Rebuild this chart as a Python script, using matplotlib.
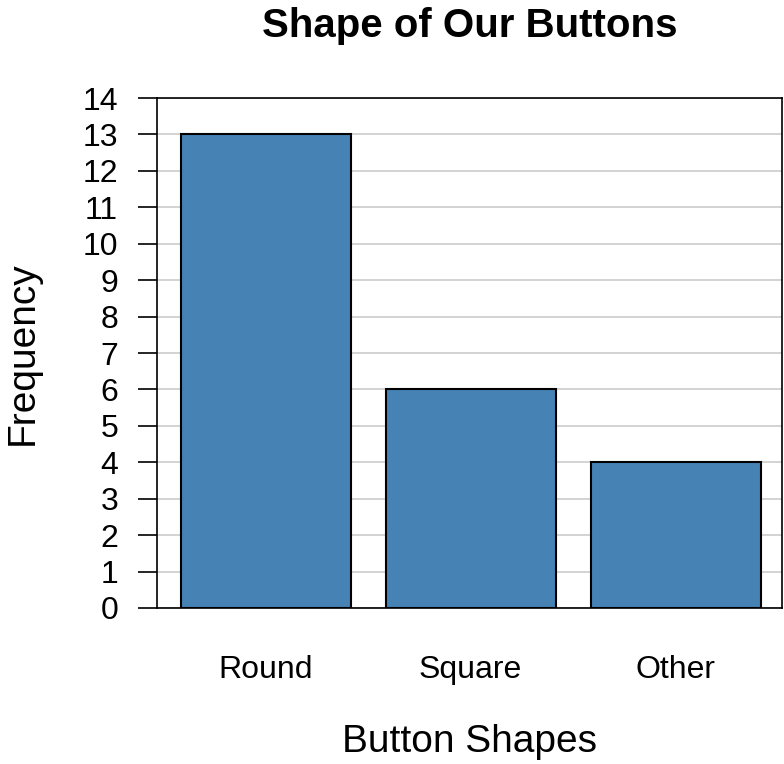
import matplotlib

matplotlib.use("Agg")
import matplotlib.pyplot as plt

# data
shapes = ["Round", "Square", "Other"]
counts = [13, 6, 4]
y_ticks = list(range(0, 15))

plt.rcParams["font.family"] = ["Liberation Sans", "DejaVu Sans"]

fig = plt.figure(figsize=(7.84, 7.64), dpi=100)
ax = fig.add_axes([0.2003, 0.2042, 0.7974, 0.6675])

x = range(len(shapes))
ax.bar(x, counts, width=0.83, color="#4682B4", edgecolor="black",
       linewidth=1.5, zorder=3)

ax.set_xlim(-0.53, 2.52)
ax.set_ylim(0, 14)
ax.set_yticks(y_ticks)
ax.set_xticks(list(x))
ax.set_xticklabels(shapes)
ax.yaxis.grid(True, color="#cccccc", linewidth=1.2, zorder=0)
ax.set_axisbelow(True)

ax.tick_params(axis="y", length=14, width=1.2, pad=14, labelsize=23)
ax.tick_params(axis="x", length=0, pad=34, labelsize=23)
for side in ax.spines.values():
    side.set_linewidth(1.2)

ax.set_xlabel("Button Shapes", fontsize=28, labelpad=28)
ax.set_ylabel("Frequency", fontsize=28, labelpad=30)
ax.set_title("Shape of Our Buttons", fontsize=29, fontweight="bold", pad=44)

fig.savefig("out.png", dpi=100)
